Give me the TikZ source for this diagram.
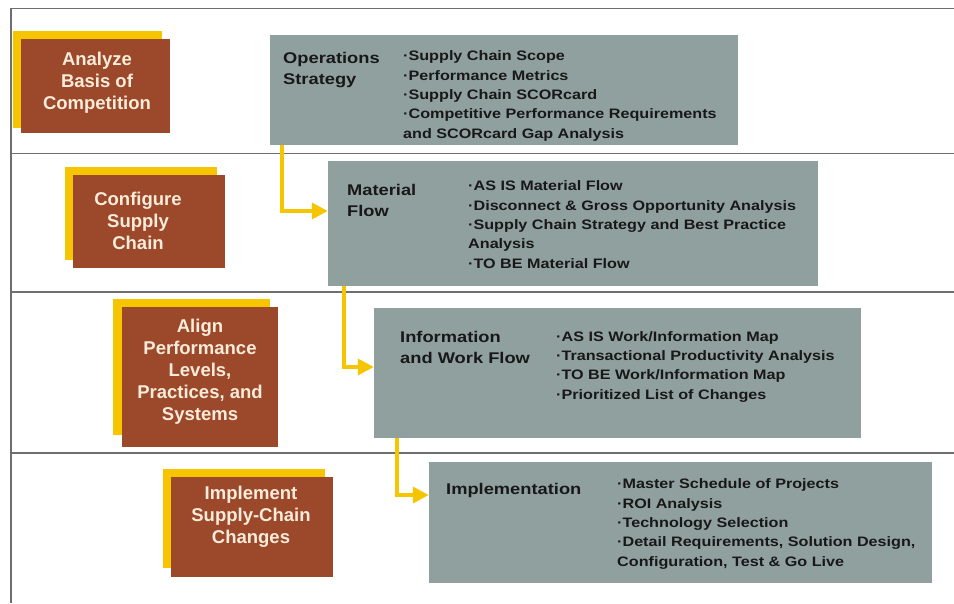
\documentclass[tikz,border=0pt]{standalone}
\usepackage{fontspec}
\setmainfont{Liberation Sans}
\newfontfamily\widesans[FakeStretch=1.18]{Liberation Sans}
\usetikzlibrary{arrows.meta}

\definecolor{stepyellow}{RGB}{247,197,0}
\definecolor{phasebrown}{RGB}{156,72,42}
\definecolor{panelgray}{RGB}{144,160,158}
\definecolor{cream}{RGB}{250,236,218}
\definecolor{ink}{RGB}{24,24,24}
\definecolor{rule}{RGB}{110,110,110}

% multi-line text nodes are anchored at the baseline of their last line
\tikzset{
  backplate/.style={fill=stepyellow, draw=none, inner sep=0pt},
  phasebox/.style={fill=phasebrown, draw=none, inner sep=0pt},
  panel/.style={fill=panelgray, draw=none, inner sep=0pt},
  phasetext/.style={text=cream, inner sep=0pt, align=center, anchor=base,
    font=\bfseries\fontsize{18.5}{22}\selectfont},
  paneltitle/.style={text=ink, inner sep=0pt, align=left, anchor=base west,
    font=\widesans\bfseries\fontsize{15.5}{21}\selectfont},
  bulletlist/.style={text=ink, inner sep=0pt, align=left, anchor=base west,
    font=\widesans\bfseries\fontsize{13.7}{19.3}\selectfont},
  flow/.style={draw=stepyellow, line width=3.5pt,
    -{Triangle[length=16pt,width=16pt]}},
  divider/.style={draw=rule, line width=1.5pt}
}

\begin{document}
\begin{tikzpicture}[x=1pt,y=-1pt]
\useasboundingbox (0,0) rectangle (954,603);
\fill[white] (0,0) rectangle (954,603);

% frame and row dividers
\draw[divider] (954,8.5) -- (11,8.5) -- (11,603);
\draw[divider] (11,153.5) -- (954,153.5);
\draw[divider] (11,292) -- (954,292);
\draw[divider] (11,453) -- (954,453);

% phase boxes with their yellow back plates
\node[backplate, minimum width=149pt, minimum height=97pt] (y1) at (87.5,79.5) {};
\node[phasebox,  minimum width=149pt, minimum height=94pt] (p1) at (95.5,86) {};
\node[backplate, minimum width=152pt, minimum height=93pt] (y2) at (141,213.5) {};
\node[phasebox,  minimum width=152pt, minimum height=93pt] (p2) at (149,221.5) {};
\node[backplate, minimum width=157pt, minimum height=136pt] (y3) at (191.5,367) {};
\node[phasebox,  minimum width=156pt, minimum height=140pt] (p3) at (200,377) {};
\node[backplate, minimum width=162pt, minimum height=99pt] (y4) at (244,518.5) {};
\node[phasebox,  minimum width=162pt, minimum height=100pt] (p4) at (252,527) {};

\node[phasetext] (p1t) at (97,109) {Analyze\\Basis of\\Competition};
\node[phasetext] (p2t) at (138,249) {Configure\\Supply\\Chain};
\node[phasetext] (p3t) at (200,420) {Align\\Performance\\Levels,\\Practices, and\\Systems};
\node[phasetext] (p4t) at (251,543.5) {Implement\\Supply-Chain\\Changes};

% activity panels
\node[panel, minimum width=468pt, minimum height=110pt] (g1) at (504,90) {};
\node[panel, minimum width=490pt, minimum height=125pt] (g2) at (573,223.5) {};
\node[panel, minimum width=487pt, minimum height=130pt] (g3) at (617.5,373) {};
\node[panel, minimum width=503pt, minimum height=121pt] (g4) at (680.5,522.5) {};

\node[paneltitle] (g1t) at (283,84) {Operations\\Strategy};
\node[bulletlist] (g1b) at (403,138) {·Supply Chain Scope\\·Performance Metrics\\·Supply Chain SCORcard\\·Competitive Performance Requirements\\and SCORcard Gap Analysis};

\node[paneltitle] (g2t) at (347,216) {Material\\Flow};
\node[bulletlist] (g2b) at (468,268) {·AS IS Material Flow\\·Disconnect \& Gross Opportunity Analysis\\·Supply Chain Strategy and Best Practice\\Analysis\\·TO BE Material Flow};

\node[paneltitle] (g3t) at (400,363) {Information\\and Work Flow};
\node[bulletlist] (g3b) at (556,399) {·AS IS Work/Information Map\\·Transactional Productivity Analysis\\·TO BE Work/Information Map\\·Prioritized List of Changes};

\node[paneltitle] (g4t) at (446,494) {Implementation};
\node[bulletlist] (g4b) at (617,566) {·Master Schedule of Projects\\·ROI Analysis\\·Technology Selection\\·Detail Requirements, Solution Design,\\Configuration, Test \& Go Live};

% hand-over arrows between panels
\draw[flow] ([xshift=12pt]g1.south west) |- ([yshift=12.5pt]g2.west);
\draw[flow] ([xshift=16pt]g2.south west) |- ([yshift=6pt]g3.west);
\draw[flow] ([xshift=23pt]g3.south west) |- ([yshift=27.5pt]g4.west);
\end{tikzpicture}
\end{document}
